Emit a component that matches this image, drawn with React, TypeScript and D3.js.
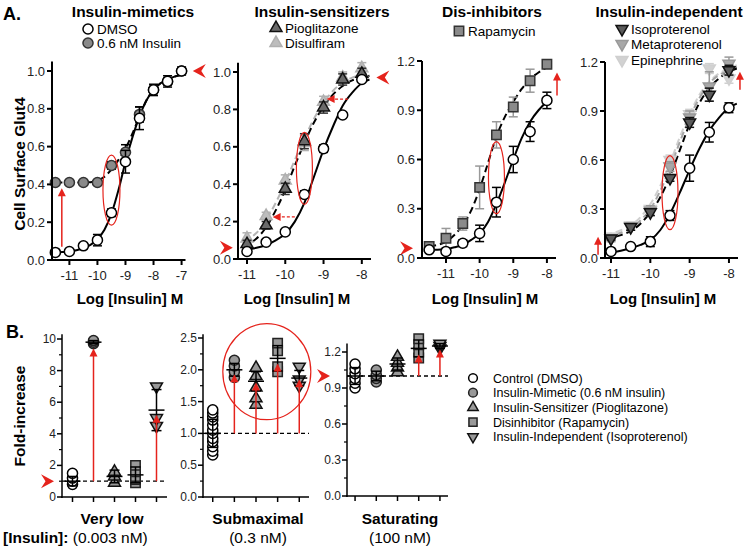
import React from 'react';
import * as d3 from 'd3';

const FONT = "'Liberation Sans', Arial, Helvetica, sans-serif";
const RED = '#e5231c';

// ---------- Panel A1: insulin-mimetics ----------
const doseA1 = [-11.5, -11, -10.5, -10, -9.5, -9, -8.5, -8, -7.5, -7];
const dmsoA1 = [0.04, 0.045, 0.075, 0.105, 0.25, 0.52, 0.75, 0.9, 0.945, 1.0];
const dmsoA1Err = [0.01, 0.01, 0.015, 0.03, 0.02, 0.06, 0.06, 0.03, 0.03, 0.02];
const insA1 = [0.41, 0.41, 0.41, 0.41, 0.5, 0.57, 0.77, 0.9, 0.945, 1.0];
const insA1Err = [0.01, 0.01, 0.01, 0.01, 0.02, 0.04, 0.04, 0.02, 0.02, 0.02];
const fitDoseA1 = [-11.5, -11.25, -11, -10.75, -10.5, -10.25, -10, -9.75, -9.5, -9.25, -9, -8.75, -8.5, -8.25, -8, -7.75, -7.5, -7.25, -7];
const fitDmsoA1 = [0.04, 0.042, 0.045, 0.052, 0.062, 0.08, 0.11, 0.16, 0.245, 0.37, 0.52, 0.65, 0.76, 0.845, 0.9, 0.935, 0.955, 0.97, 0.98];
const fitInsA1 = [0.41, 0.41, 0.41, 0.41, 0.41, 0.412, 0.42, 0.44, 0.48, 0.53, 0.59, 0.67, 0.76, 0.845, 0.9, 0.935, 0.955, 0.97, 0.98];

// ---------- Panel A2: insulin-sensitizers ----------
const doseA2 = [-11, -10.5, -10, -9.5, -9, -8.5, -8];
const dmsoA2 = [0.04, 0.09, 0.145, 0.345, 0.59, 0.77, 0.96];
const dmsoA2Err = [0.01, 0.01, 0.01, 0.02, 0.02, 0.01, 0.01];
const pioA2 = [0.08, 0.18, 0.375, 0.63, 0.81, 0.96, 0.99];
const pioA2Err = [0.02, 0.02, 0.03, 0.04, 0.03, 0.03, 0.03];
const disA2 = [0.11, 0.23, 0.42, 0.62, 0.84, 0.97, 1.02];
const disA2Err = [0.03, 0.02, 0.03, 0.04, 0.03, 0.03, 0.03];
const fitDoseA2 = [-11.1, -10.75, -10.5, -10.25, -10, -9.75, -9.5, -9.25, -9, -8.75, -8.5, -8.25, -8, -7.8];
const fitDmsoA2 = [0.05, 0.06, 0.075, 0.1, 0.135, 0.2, 0.3, 0.44, 0.585, 0.71, 0.82, 0.89, 0.94, 0.96];
const fitPioA2 = [0.07, 0.11, 0.17, 0.26, 0.37, 0.5, 0.62, 0.73, 0.815, 0.88, 0.925, 0.955, 0.97, 0.98];
const fitDisA2 = [0.1, 0.14, 0.21, 0.3, 0.41, 0.53, 0.645, 0.75, 0.835, 0.9, 0.945, 0.97, 0.985, 0.99];

// ---------- Panel A3: dis-inhibitors ----------
const doseA3 = [-11.5, -11, -10.5, -10, -9.5, -9, -8.5, -8];
const dmsoA3 = [0.05, 0.04, 0.09, 0.15, 0.34, 0.6, 0.77, 0.96];
const dmsoA3Err = [0.01, 0.01, 0.02, 0.05, 0.09, 0.08, 0.06, 0.05];
const rapaA3 = [0.07, 0.12, 0.21, 0.43, 0.75, 0.92, 1.08, 1.18];
const rapaA3Err = [0.01, 0.06, 0.04, 0.13, 0.08, 0.06, 0.07, 0.02];
const fitDoseA3 = [-11.5, -11.25, -11, -10.75, -10.5, -10.25, -10, -9.75, -9.5, -9.25, -9, -8.75, -8.5, -8.25, -8, -7.9];
const fitDmsoA3 = [0.05, 0.05, 0.055, 0.065, 0.08, 0.11, 0.15, 0.22, 0.33, 0.46, 0.6, 0.73, 0.83, 0.9, 0.95, 0.96];
const fitRapaA3 = [0.07, 0.08, 0.1, 0.14, 0.2, 0.29, 0.42, 0.58, 0.74, 0.86, 0.95, 1.03, 1.09, 1.13, 1.16, 1.165];

// ---------- Panel A4: insulin-independent ----------
const doseA4 = [-11, -10.5, -10, -9.5, -9, -8.5, -8];
const dmsoA4 = [0.04, 0.07, 0.1, 0.26, 0.55, 0.77, 0.92];
const dmsoA4Err = [0.01, 0.01, 0.03, 0.03, 0.08, 0.06, 0.03];
const isoA4 = [0.12, 0.19, 0.28, 0.49, 0.83, 1.0, 1.15];
const isoA4Err = [0.01, 0.02, 0.02, 0.02, 0.03, 0.04, 0.03];
const metaA4 = [0.12, 0.19, 0.29, 0.56, 0.86, 1.05, 1.19];
const metaA4Err = [0.02, 0.02, 0.03, 0.03, 0.04, 0.09, 0.04];
const epiA4 = [0.13, 0.2, 0.3, 0.6, 0.88, 1.16, 1.1];
const epiA4Err = [0.02, 0.02, 0.02, 0.03, 0.03, 0.03, 0.03];
const fitDoseA4 = [-11.15, -11, -10.75, -10.5, -10.25, -10, -9.75, -9.5, -9.25, -9, -8.75, -8.5, -8.25, -8, -7.8];
const fitDmsoA4 = [0.03, 0.035, 0.045, 0.06, 0.08, 0.11, 0.17, 0.27, 0.4, 0.54, 0.67, 0.78, 0.86, 0.92, 0.945];
const fitIsoA4 = [0.12, 0.125, 0.14, 0.165, 0.21, 0.28, 0.37, 0.5, 0.66, 0.82, 0.95, 1.04, 1.1, 1.14, 1.16];
const fitMetaA4 = [0.13, 0.14, 0.155, 0.18, 0.23, 0.3, 0.41, 0.55, 0.71, 0.86, 0.98, 1.07, 1.12, 1.15, 1.17];
const fitEpiA4 = [0.14, 0.15, 0.17, 0.2, 0.25, 0.33, 0.44, 0.58, 0.74, 0.88, 1.0, 1.08, 1.13, 1.16, 1.18];

const yTicksA12 = [0, 0.2, 0.4, 0.6, 0.8, 1.0];
const yTicksA34 = [0, 0.3, 0.6, 0.9, 1.2];
const xTicksA1 = [-11, -10, -9, -8, -7];
const xTicksA234 = [-11, -10, -9, -8];

// ---------- Panel B ----------
const groupsB = [
  'Control (DMSO)',
  'Insulin-Mimetic  (0.6 nM  insulin)',
  'Insulin-Sensitizer (Pioglitazone)',
  'Disinhibitor (Rapamycin)',
  'Insulin-Independent (Isoproterenol)',
];
const veryLowPts = [[0.8, 1.0, 1.2, 1.5], [9.7, 9.8, 9.9], [0.9, 1.3, 1.6], [0.9, 1.1, 1.3, 1.6, 2.0], [4.5, 5.0, 7.0]];
const veryLowMean = [1.0, 9.8, 1.3, 1.4, 5.5];
const veryLowSd = [0.3, 0.1, 0.4, 0.5, 1.3];
const veryLowArrow = [null, 9.4, null, null, 5.2];

const submaxPts = [
  [0.66, 0.72, 0.79, 0.87, 0.92, 1.0, 1.05, 1.13, 1.21, 1.26, 1.32, 1.37],
  [1.88, 1.97, 2.06, 2.15],
  [1.45, 1.55, 1.72, 1.9, 2.03],
  [1.97, 2.05, 2.3, 2.42],
  [1.75, 1.85, 2.05],
];
const submaxMean = [1.0, 2.0, 1.82, 2.18, 1.87];
const submaxSd = [0.22, 0.1, 0.15, 0.2, 0.12];
const submaxArrow = [null, 1.93, 1.8, 2.1, 1.85];

const satPts = [[0.9, 0.94, 0.98, 1.02, 1.06, 1.1], [0.95, 0.98, 1.01, 1.05], [1.03, 1.07, 1.11, 1.16], [1.15, 1.2, 1.26, 1.31], [1.23, 1.25, 1.27]];
const satMean = [1.0, 1.0, 1.1, 1.23, 1.25];
const satSd = [0.07, 0.04, 0.05, 0.07, 0.02];
const satArrow = [null, null, null, 1.18, 1.22];

// ---------- styles ----------
const stDmso = { kind: 'circle', size: 80, fill: '#fff', stroke: '#000', err: '#000' };
const stIns = { kind: 'circle', size: 80, fill: '#8a8a8a', stroke: '#333', err: '#000' };
const stPio = { kind: 'tri', size: 62, fill: '#6a6a6a', stroke: '#111', err: '#333' };
const stDis = { kind: 'tri', size: 62, fill: '#bdbdbd', stroke: '#b0b0b0', err: '#b0b0b0' };
const stRapa = { kind: 'square', size: 88, fill: '#8a8a8a', stroke: '#333', err: '#999' };
const stIso = { kind: 'triDown', size: 62, fill: '#5a5a5a', stroke: '#111', err: '#111' };
const stMeta = { kind: 'triDown', size: 62, fill: '#a8a8a8', stroke: '#999', err: '#999' };
const stEpi = { kind: 'triDown', size: 62, fill: '#d2d2d2', stroke: '#cfcfcf', err: '#cfcfcf' };

const stB = [
  { kind: 'circle', size: 80, fill: '#fff', stroke: '#000' },
  { kind: 'circle', size: 80, fill: '#999', stroke: '#222' },
  { kind: 'tri', size: 62, fill: '#999', stroke: '#111' },
  { kind: 'square', size: 88, fill: '#999', stroke: '#222' },
  { kind: 'triDown', size: 62, fill: '#999', stroke: '#111' },
];

function symbolPath(kind: string, size: number) {
  const t = kind === 'circle' ? d3.symbolCircle : kind === 'square' ? d3.symbolSquare : d3.symbolTriangle;
  return d3.symbol().type(t).size(size)() as string;
}

function Sym({ st, x, y, scale = 1, sw = 1.5 }: any) {
  return (
    <path
      d={symbolPath(st.kind, st.size * scale)}
      transform={`translate(${x},${y})${st.kind === 'triDown' ? ' rotate(180)' : ''}`}
      fill={st.fill}
      stroke={st.stroke}
      strokeWidth={sw}
    />
  );
}

function Head({ x, y, dir, s = 1 }: any) {
  const rot = dir === 'right' ? 0 : dir === 'left' ? 180 : dir === 'up' ? -90 : 90;
  return (
    <path
      d={`M0,0 L${-13 * s},${-7 * s} L${-8.5 * s},0 L${-13 * s},${7 * s} Z`}
      transform={`translate(${x},${y}) rotate(${rot})`}
      fill={RED}
    />
  );
}

function SmallHead({ x, y, dir }: any) {
  const rot = dir === 'right' ? 0 : dir === 'left' ? 180 : dir === 'up' ? -90 : 90;
  return <path d="M0,0 L-8,-4 L-8,4 Z" transform={`translate(${x},${y}) rotate(${rot})`} fill={RED} />;
}

const panelsA = [
  {
    title: 'Insulin-mimetics', titleX: 133,
    xDomain: [-11.62, -6.86], xRange: [52, 185.5], yDomain: [0, 1], yRange: [260, 71], yTop: 1.05,
    yTicks: yTicksA12, xTicks: xTicksA1, fmt: '.1f', labelX: 130,
    legend: [
      { st: stDmso, label: 'DMSO', x: 88, y: 29 },
      { st: stIns, label: '0.6 nM Insulin', x: 88, y: 43 },
    ],
    series: [
      { x: doseA1, y: insA1, e: insA1Err, st: stIns },
      { x: doseA1, y: dmsoA1, e: dmsoA1Err, st: stDmso },
    ],
    fits: [
      { x: fitDoseA1, y: fitInsA1, color: '#000', dash: '7,4' },
      { x: fitDoseA1, y: fitDmsoA1, color: '#000', dash: null },
    ],
    ellipses: [{ cx: -9.5, cy: 0.37, rx: 8.5, ry: 35 }],
    vArrows: [{ x: -11.27, y0: 0.07, y1: 0.38 }],
    hArrows: [],
    heads: [{ x: -6.6, y: 1.0, dir: 'left' }],
  },
  {
    title: 'Insulin-sensitizers', titleX: 322,
    xDomain: [-11.235, -7.76], xRange: [238, 371], yDomain: [0, 1], yRange: [259, 72], yTop: 1.05,
    yTicks: yTicksA12, xTicks: xTicksA234, fmt: '.1f', labelX: 297,
    legend: [
      { st: stPio, label: 'Pioglitazone', x: 276, y: 28 },
      { st: stDis, label: 'Disulfiram', x: 276, y: 43 },
    ],
    series: [
      { x: doseA2, y: disA2, e: disA2Err, st: stDis },
      { x: doseA2, y: pioA2, e: pioA2Err, st: stPio },
      { x: doseA2, y: dmsoA2, e: dmsoA2Err, st: stDmso },
    ],
    fits: [
      { x: fitDoseA2, y: fitDisA2, color: '#b5b5b5', dash: '7,4' },
      { x: fitDoseA2, y: fitPioA2, color: '#000', dash: '7,4' },
      { x: fitDoseA2, y: fitDmsoA2, color: '#000', dash: null },
    ],
    ellipses: [{ cx: -9.5, cy: 0.485, rx: 8, ry: 36 }],
    vArrows: [],
    hArrows: [
      { y: 0.855, x0: -8.36, x1: -8.92 },
      { y: 0.225, x0: -9.75, x1: -10.33 },
    ],
    heads: [
      { x: -11.37, y: 0.06, dir: 'right' },
      { x: -7.62, y: 0.97, dir: 'left' },
    ],
  },
  {
    title: 'Dis-inhibitors', titleX: 492,
    xDomain: [-11.713, -7.73], xRange: [422, 556], yDomain: [0, 1.2], yRange: [258, 61], yTop: 1.2,
    yTicks: yTicksA34, xTicks: xTicksA234, fmt: '.1f', labelX: 485,
    legend: [{ st: stRapa, label: 'Rapamycin', x: 459, y: 31 }],
    series: [
      { x: doseA3, y: rapaA3, e: rapaA3Err, st: stRapa },
      { x: doseA3, y: dmsoA3, e: dmsoA3Err, st: stDmso },
    ],
    fits: [
      { x: fitDoseA3, y: fitRapaA3, color: '#000', dash: '7,4' },
      { x: fitDoseA3, y: fitDmsoA3, color: '#000', dash: null },
    ],
    ellipses: [{ cx: -9.5, cy: 0.49, rx: 8, ry: 36 }],
    vArrows: [{ x: -7.7, y0: 0.99, y1: 1.13 }],
    hArrows: [],
    heads: [{ x: -11.98, y: 0.06, dir: 'right' }],
  },
  {
    title: 'Insulin-independent', titleX: 669,
    xDomain: [-11.153, -7.77], xRange: [605, 738], yDomain: [0, 1.2], yRange: [258, 62], yTop: 1.2,
    yTicks: yTicksA34, xTicks: xTicksA234, fmt: '.1f', labelX: 663,
    legend: [
      { st: stIso, label: 'Isoproterenol', x: 622, y: 29 },
      { st: stMeta, label: 'Metaproterenol', x: 622, y: 44 },
      { st: stEpi, label: 'Epinephrine', x: 622, y: 60 },
    ],
    series: [
      { x: doseA4, y: epiA4, e: epiA4Err, st: stEpi },
      { x: doseA4, y: metaA4, e: metaA4Err, st: stMeta },
      { x: doseA4, y: isoA4, e: isoA4Err, st: stIso },
      { x: doseA4, y: dmsoA4, e: dmsoA4Err, st: stDmso },
    ],
    fits: [
      { x: fitDoseA4, y: fitEpiA4, color: '#d0d0d0', dash: '7,4' },
      { x: fitDoseA4, y: fitMetaA4, color: '#a5a5a5', dash: '7,4' },
      { x: fitDoseA4, y: fitIsoA4, color: '#000', dash: '7,4' },
      { x: fitDoseA4, y: fitDmsoA4, color: '#000', dash: null },
    ],
    ellipses: [{ cx: -9.5, cy: 0.4, rx: 8, ry: 37 }],
    vArrows: [
      { x: -11.33, y0: 0.02, y1: 0.13 },
      { x: -7.72, y0: 1.03, y1: 1.14 },
    ],
    hArrows: [],
    heads: [],
  },
];

const panelsB = [
  {
    name: 'Very low', sub: '(0.003 nM)', nameX: 112, showSub: false,
    xRange: [62, 167], pad: 0.5, yDomain: [0, 10], yRange: [497, 339], yTop: 10.3,
    major: [0, 2, 4, 6, 8, 10], minor: [1, 3, 5, 7, 9], fmt: 'd',
    pts: veryLowPts, mean: veryLowMean, sd: veryLowSd, arrows: veryLowArrow,
    head: { dx: -8 }, circle: null,
  },
  {
    name: 'Submaximal', sub: '(0.3 nM)', nameX: 258, showSub: true,
    xRange: [203, 309], pad: 0.45, yDomain: [0, 2.5], yRange: [497, 338], yTop: 2.56,
    major: [0, 0.5, 1, 1.5, 2, 2.5], minor: [0.25, 0.75, 1.25, 1.75, 2.25], fmt: '.1f',
    pts: submaxPts, mean: submaxMean, sd: submaxSd, arrows: submaxArrow,
    head: null, circle: { y: 1.97, rx: 44, ry: 48 },
  },
  {
    name: 'Saturating', sub: '(100 nM)', nameX: 400, showSub: true,
    xRange: [347, 448], pad: 0.38, yDomain: [0, 1.2], yRange: [496, 352], yTop: 1.27,
    major: [0, 0.3, 0.6, 0.9, 1.2], minor: [0.15, 0.45, 0.75, 1.05], fmt: '.1f',
    pts: satPts, mean: satMean, sd: satSd, arrows: satArrow,
    head: { dx: -17 }, circle: null,
  },
];

function TopPanel({ p }: any) {
  const x = d3.scaleLinear().domain(p.xDomain).range(p.xRange);
  const y = d3.scaleLinear().domain(p.yDomain).range(p.yRange);
  const line = d3.line<[number, number]>().x((d) => x(d[0])).y((d) => y(d[1])).curve(d3.curveMonotoneX);
  const fmt = d3.format(p.fmt);
  const x0 = p.xRange[0];
  const y0 = p.yRange[0];
  return (
    <g>
      <text x={p.titleX} y={17} textAnchor="middle" fontWeight="bold" fontSize={15.5}>{p.title}</text>
      {p.legend.map((l: any, i: number) => (
        <g key={'lg' + i}>
          <Sym st={l.st} x={l.x} y={l.y} />
          <text x={l.x + 9} y={l.y + 5} fontSize={13.5}>{l.label}</text>
        </g>
      ))}
      {p.fits.map((f: any, i: number) => (
        <path key={'f' + i} d={line(d3.zip(f.x, f.y) as any) as string} fill="none" stroke={f.color} strokeWidth={2} strokeDasharray={f.dash || undefined} />
      ))}
      {p.series.map((s: any, si: number) => (
        <g key={'s' + si}>
          {s.x.map((xv: number, i: number) => {
            const yl = y(s.y[i] - s.e[i]);
            const yh = y(s.y[i] + s.e[i]);
            const xp = x(xv);
            return (
              <g key={i} stroke={s.st.err} strokeWidth={1.5}>
                <line x1={xp} x2={xp} y1={yl} y2={yh} />
                <line x1={xp - 4.5} x2={xp + 4.5} y1={yl} y2={yl} />
                <line x1={xp - 4.5} x2={xp + 4.5} y1={yh} y2={yh} />
              </g>
            );
          })}
          {s.x.map((xv: number, i: number) => (
            <Sym key={'p' + i} st={s.st} x={x(xv)} y={y(s.y[i])} />
          ))}
        </g>
      ))}
      <line x1={x0} x2={x0} y1={y0 + 1} y2={y(p.yTop)} stroke="#000" strokeWidth={2} />
      <line x1={x0 - 1} x2={p.xRange[1]} y1={y0} y2={y0} stroke="#000" strokeWidth={2} />
      {p.yTicks.map((t: number) => (
        <g key={'yt' + t}>
          <line x1={x0 - 5} x2={x0} y1={y(t)} y2={y(t)} stroke="#000" strokeWidth={2} />
          <text x={x0 - 7} y={y(t) + 4.5} textAnchor="end" fontSize={13} fill="#222">{fmt(t)}</text>
        </g>
      ))}
      {p.xTicks.map((t: number) => (
        <g key={'xt' + t}>
          <line x1={x(t)} x2={x(t)} y1={y0} y2={y0 + 5} stroke="#000" strokeWidth={2} />
          <text x={x(t)} y={y0 + 20} textAnchor="middle" fontSize={13} fill="#222">{String(t)}</text>
        </g>
      ))}
      <text x={p.labelX} y={304} textAnchor="middle" fontWeight="bold" fontSize={15}>Log [Insulin] M</text>
      {p.ellipses.map((e: any, i: number) => (
        <ellipse key={'e' + i} cx={x(e.cx)} cy={y(e.cy)} rx={e.rx} ry={e.ry} fill="none" stroke={RED} strokeWidth={1.2} />
      ))}
      {p.vArrows.map((a: any, i: number) => (
        <g key={'va' + i}>
          <line x1={x(a.x)} x2={x(a.x)} y1={y(a.y0)} y2={y(a.y1) + 6} stroke={RED} strokeWidth={1.5} />
          <SmallHead x={x(a.x)} y={y(a.y1)} dir="up" />
        </g>
      ))}
      {p.hArrows.map((a: any, i: number) => (
        <g key={'ha' + i}>
          <line x1={x(a.x0)} x2={x(a.x1) + 5} y1={y(a.y)} y2={y(a.y)} stroke={RED} strokeWidth={1.3} strokeDasharray="3,2" />
          <SmallHead x={x(a.x1)} y={y(a.y)} dir="left" />
        </g>
      ))}
      {p.heads.map((h: any, i: number) => (
        <Head key={'h' + i} x={x(h.x)} y={y(h.y)} dir={h.dir} />
      ))}
    </g>
  );
}

function BottomPanel({ p }: any) {
  const x = d3.scalePoint<string>().domain(groupsB).range(p.xRange).padding(p.pad);
  const y = d3.scaleLinear().domain(p.yDomain).range(p.yRange);
  const fmt = d3.format(p.fmt);
  const x0 = p.xRange[0];
  const y0 = p.yRange[0];
  return (
    <g>
      <line x1={x0} x2={p.xRange[1]} y1={y(1)} y2={y(1)} stroke="#000" strokeWidth={1.3} strokeDasharray="4,3" />
      {groupsB.map((g, gi) => {
        const xp = x(g) as number;
        return (
          <g key={g}>
            {p.pts[gi].map((v: number, i: number) => (
              <Sym key={i} st={stB[gi]} x={xp} y={y(v)} />
            ))}
            <g stroke="#000" strokeWidth={1.5}>
              <line x1={xp - 8} x2={xp + 8} y1={y(p.mean[gi])} y2={y(p.mean[gi])} />
              <line x1={xp} x2={xp} y1={y(p.mean[gi] - p.sd[gi])} y2={y(p.mean[gi] + p.sd[gi])} />
              <line x1={xp - 5} x2={xp + 5} y1={y(p.mean[gi] - p.sd[gi])} y2={y(p.mean[gi] - p.sd[gi])} />
              <line x1={xp - 5} x2={xp + 5} y1={y(p.mean[gi] + p.sd[gi])} y2={y(p.mean[gi] + p.sd[gi])} />
            </g>
            {p.arrows[gi] != null && (
              <g>
                <line x1={xp} x2={xp} y1={y(1)} y2={y(p.arrows[gi]) + 5} stroke={RED} strokeWidth={1.5} />
                <SmallHead x={xp} y={y(p.arrows[gi])} dir="up" />
              </g>
            )}
          </g>
        );
      })}
      <line x1={x0} x2={x0} y1={y0 + 1} y2={y(p.yTop)} stroke="#000" strokeWidth={1.5} />
      <line x1={x0 - 0.75} x2={p.xRange[1]} y1={y0} y2={y0} stroke="#000" strokeWidth={1.5} />
      {p.major.map((t: number) => (
        <g key={'M' + t}>
          <line x1={x0 - 5} x2={x0} y1={y(t)} y2={y(t)} stroke="#000" strokeWidth={1.5} />
          <text x={x0 - 6} y={y(t) + 4} textAnchor="end" fontSize={12} fill="#222">{fmt(t)}</text>
        </g>
      ))}
      {p.minor.map((t: number) => (
        <line key={'m' + t} x1={x0 - 3} x2={x0} y1={y(t)} y2={y(t)} stroke="#000" strokeWidth={1.2} />
      ))}
      {groupsB.map((g) => (
        <line key={'xt' + g} x1={x(g) as number} x2={x(g) as number} y1={y0} y2={y0 + 5} stroke="#000" strokeWidth={1.5} />
      ))}
      <text x={p.nameX} y={524} textAnchor="middle" fontWeight="bold" fontSize={15.5}>{p.name}</text>
      {p.showSub && (
        <text x={p.nameX} y={543} textAnchor="middle" fontSize={15.5}>{p.sub}</text>
      )}
      {p.head && <Head x={x0 + p.head.dx} y={y(1)} dir="right" />}
      {p.circle && (
        <ellipse
          cx={((x(groupsB[1]) as number) + (x(groupsB[4]) as number)) / 2}
          cy={y(p.circle.y)}
          rx={p.circle.rx}
          ry={p.circle.ry}
          fill="none"
          stroke={RED}
          strokeWidth={1.2}
        />
      )}
    </g>
  );
}

export default function App() {
  return (
    <svg
      width={745}
      height={546}
      viewBox="0 0 745 546"
      style={{ position: 'absolute', left: 0, top: 0, background: '#fff' }}
      fontFamily={FONT}
    >
      <rect x={0} y={0} width={745} height={546} fill="#fff" />
      <text x={3} y={20} fontWeight="bold" fontSize={18}>A.</text>
      <text x={6} y={338} fontWeight="bold" fontSize={18}>B.</text>
      <text transform="translate(25,164) rotate(-90)" textAnchor="middle" fontWeight="bold" fontSize={15.5}>Cell Surface Glut4</text>
      <text transform="translate(25,416) rotate(-90)" textAnchor="middle" fontWeight="bold" fontSize={15.5}>Fold-increase</text>
      {panelsA.map((p, i) => (
        <TopPanel key={i} p={p} />
      ))}
      {panelsB.map((p, i) => (
        <BottomPanel key={i} p={p} />
      ))}
      <text x={3} y={543} fontSize={15.5}>
        <tspan fontWeight="bold">[Insulin]:</tspan>
        <tspan> {veryLowLabel()}</tspan>
      </text>
      {groupsB.map((g, i) => (
        <g key={'bl' + i}>
          <Sym st={stB[i]} x={473} y={378 + i * 14.7} scale={0.75} />
          <text x={493} y={382.5 + i * 14.7} fontSize={12.5}>{g}</text>
        </g>
      ))}
    </svg>
  );
}

function veryLowLabel() {
  return panelsB[0].sub;
}
